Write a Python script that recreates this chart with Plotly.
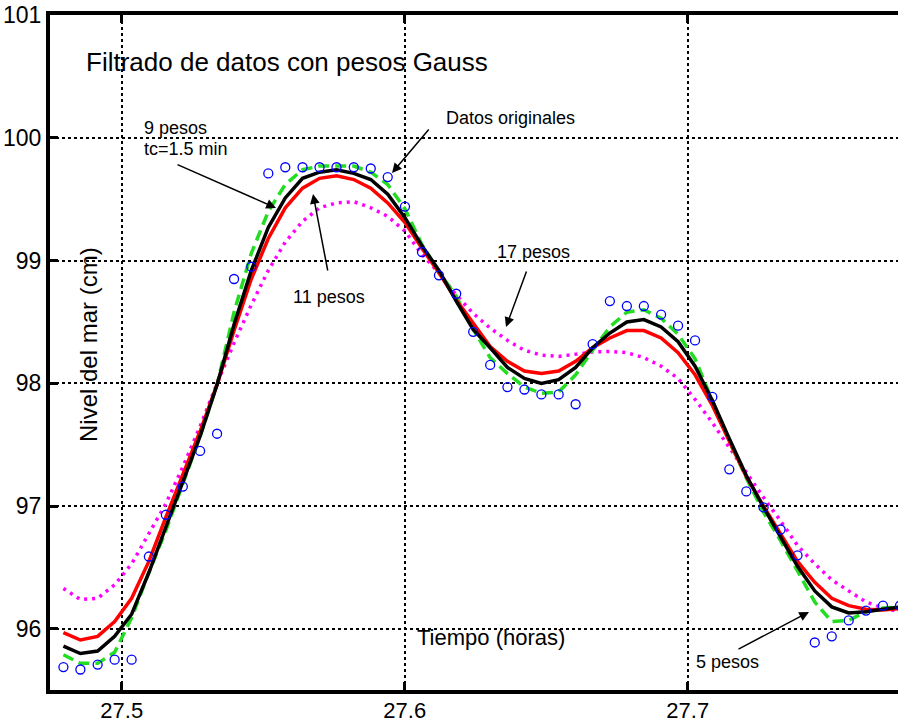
import plotly.graph_objects as go

# ---------------- data ----------------
tiempo = [27.4794, 27.4854, 27.4915, 27.4975, 27.5035, 27.5096, 27.5156, 27.5216, 27.5277, 27.5337,
          27.5397, 27.5458, 27.5518, 27.5578, 27.5639, 27.5699, 27.5759, 27.5820, 27.5880, 27.5940,
          27.6001, 27.6061, 27.6121, 27.6182, 27.6242, 27.6302, 27.6363, 27.6423, 27.6483, 27.6544,
          27.6604, 27.6664, 27.6725, 27.6785, 27.6845, 27.6906, 27.6966, 27.7026, 27.7087, 27.7147,
          27.7207, 27.7268, 27.7328, 27.7388, 27.7449, 27.7509, 27.7569, 27.7630, 27.7690, 27.7750]

datos_originales = [95.69, 95.67, 95.71, 95.75, 95.75, 96.59, 96.93, 97.16, 97.45, 97.59,
                    98.85, 98.95, 99.71, 99.76, 99.76, 99.76, 99.76, 99.76, 99.75, 99.68,
                    99.44, 99.07, 98.88, 98.73, 98.42, 98.15, 97.97, 97.95, 97.91, 97.91,
                    97.83, 98.32, 98.67, 98.63, 98.63, 98.56, 98.47, 98.35, 97.89, 97.30,
                    97.12, 96.99, 96.81, 96.60, 95.89, 95.94, 96.07, 96.15, 96.19, 96.19]

pesos5 = [95.79, 95.72, 95.72, 95.81, 96.09, 96.46, 96.80, 97.18, 97.57, 97.99,
          98.58, 99.06, 99.40, 99.62, 99.74, 99.77, 99.77, 99.77, 99.72, 99.62,
          99.42, 99.13, 98.91, 98.71, 98.44, 98.21, 98.08, 97.97, 97.92, 97.93,
          98.07, 98.27, 98.46, 98.58, 98.60, 98.53, 98.40, 98.20, 97.86, 97.53,
          97.23, 96.95, 96.72, 96.47, 96.22, 96.06, 96.07, 96.14, 96.17, 96.18]

pesos9 = [95.86, 95.80, 95.82, 95.94, 96.12, 96.46, 96.83, 97.20, 97.57, 97.99,
          98.48, 98.92, 99.27, 99.51, 99.67, 99.72, 99.74, 99.71, 99.66, 99.54,
          99.35, 99.12, 98.92, 98.67, 98.44, 98.29, 98.13, 98.04, 98.00, 98.03,
          98.13, 98.29, 98.41, 98.50, 98.52, 98.46, 98.34, 98.14, 97.86, 97.55,
          97.25, 96.99, 96.75, 96.51, 96.31, 96.18, 96.13, 96.14, 96.16, 96.18]

pesos11 = [95.97, 95.91, 95.94, 96.06, 96.25, 96.55, 96.91, 97.26, 97.61, 97.99,
           98.43, 98.85, 99.18, 99.43, 99.59, 99.67, 99.69, 99.66, 99.59, 99.47,
           99.31, 99.10, 98.90, 98.68, 98.49, 98.30, 98.18, 98.10, 98.08, 98.10,
           98.18, 98.29, 98.37, 98.43, 98.43, 98.37, 98.25, 98.07, 97.82, 97.53,
           97.24, 97.00, 96.77, 96.55, 96.38, 96.25, 96.19, 96.16, 96.155, 96.165]

pesos17 = [96.33, 96.24, 96.25, 96.36, 96.53, 96.77, 97.02, 97.32, 97.65, 98.00,
           98.33, 98.64, 98.92, 99.15, 99.32, 99.43, 99.47, 99.48, 99.43, 99.36,
           99.24, 99.05, 98.90, 98.72, 98.57, 98.45, 98.35, 98.27, 98.23, 98.22,
           98.24, 98.255, 98.26, 98.25, 98.21, 98.14, 98.04, 97.87, 97.68, 97.48,
           97.27, 97.07, 96.88, 96.68, 96.53, 96.40, 96.31, 96.22, 96.17, 96.14]

x_ticks = [27.5, 27.6, 27.7]
x_ticklabels = ["27.5", "27.6", "27.7"]
y_ticks = [96, 97, 98, 99, 100, 101]
y_ticklabels = ["96", "97", "98", "99", "100", "101"]

FONT = "Liberation Sans, Arial, Helvetica, sans-serif"

fig = go.Figure()
fig.add_trace(go.Scatter(x=tiempo, y=pesos17, mode="lines",
                         line=dict(color="#ff00ff", width=3.5, dash="3px,5px"), name="17 pesos"))
fig.add_trace(go.Scatter(x=tiempo, y=pesos5, mode="lines",
                         line=dict(color="#22dd22", width=3.5, dash="11px,6px"), name="5 pesos"))
fig.add_trace(go.Scatter(x=tiempo, y=pesos11, mode="lines",
                         line=dict(color="#ff0000", width=3.5), name="11 pesos"))
fig.add_trace(go.Scatter(x=tiempo, y=pesos9, mode="lines",
                         line=dict(color="#000000", width=3.5), name="9 pesos"))
fig.add_trace(go.Scatter(x=tiempo, y=datos_originales, mode="markers",
                         marker=dict(symbol="circle-open", size=9, color="#0000ff",
                                     line=dict(width=1.3, color="#0000ff")),
                         name="Datos originales"))

axis_common = dict(showline=True, linewidth=4, linecolor="black",
                   ticks="inside", ticklen=8, tickwidth=3, tickcolor="black",
                   showgrid=True, gridcolor="black", gridwidth=2, griddash="dot",
                   zeroline=False, automargin=False)

fig.update_xaxes(range=[27.47466, 27.77431], tickvals=x_ticks, ticktext=x_ticklabels,
                 mirror="ticks", tickfont=dict(family=FONT, size=22, color="black"),
                 ticklabelstandoff=-2, **axis_common)
fig.update_yaxes(range=[95.503, 101.0], tickvals=y_ticks, ticktext=y_ticklabels,
                 mirror=False, tickfont=dict(family=FONT, size=23, color="black"),
                 **axis_common)


def px2x(px):
    return 27.5 + (px - 121.7) / 2830.0


def py2y(py):
    return 96 + (629 - py) / 122.8


annotations = []


def txt(text, px, py, size, xanchor="left", angle=0):
    annotations.append(dict(text=text, xref="paper", yref="paper",
                            x=(px - 50) / 848.0, y=(690 - py) / 675.0,
                            xanchor=xanchor, yanchor="middle", showarrow=False,
                            textangle=angle,
                            font=dict(family=FONT, size=size, color="black")))


txt("Filtrado de datos con pesos Gauss", 84, 62, 26)
txt("9 pesos", 142, 128, 18)
txt("tc=1.5 min", 142, 149, 18)
txt("Datos originales", 444, 118, 18)
txt("11 pesos", 329, 297, 18, xanchor="center")
txt("17 pesos", 533, 252, 18, xanchor="center")
txt("5 pesos", 727, 662, 18, xanchor="center")
txt("Tiempo (horas)", 491, 637, 22, xanchor="center")
txt("Nivel del mar (cm)", 88, 345, 24, xanchor="center", angle=-90)

# arrows (tail -> head), pixel positions converted to data coords
arrows = [((176, 164), (276, 208)),
          ((328, 272), (313, 194)),
          ((430, 128), (392, 173)),
          ((527, 270), (506, 327)),
          ((737, 650), (809, 612))]
for (tx, ty), (hx, hy) in arrows:
    annotations.append(dict(text="", x=px2x(hx), y=py2y(hy), ax=px2x(tx), ay=py2y(ty),
                            xref="x", yref="y", axref="x", ayref="y",
                            showarrow=True, arrowhead=2, arrowsize=1.3, arrowwidth=1.5,
                            arrowcolor="black"))

fig.update_layout(width=898, height=723,
                  margin=dict(l=50, r=0, t=15, b=33),
                  paper_bgcolor="white", plot_bgcolor="white",
                  showlegend=False, annotations=annotations,
                  font=dict(family=FONT, color="black"))

fig.write_html("out.html")
